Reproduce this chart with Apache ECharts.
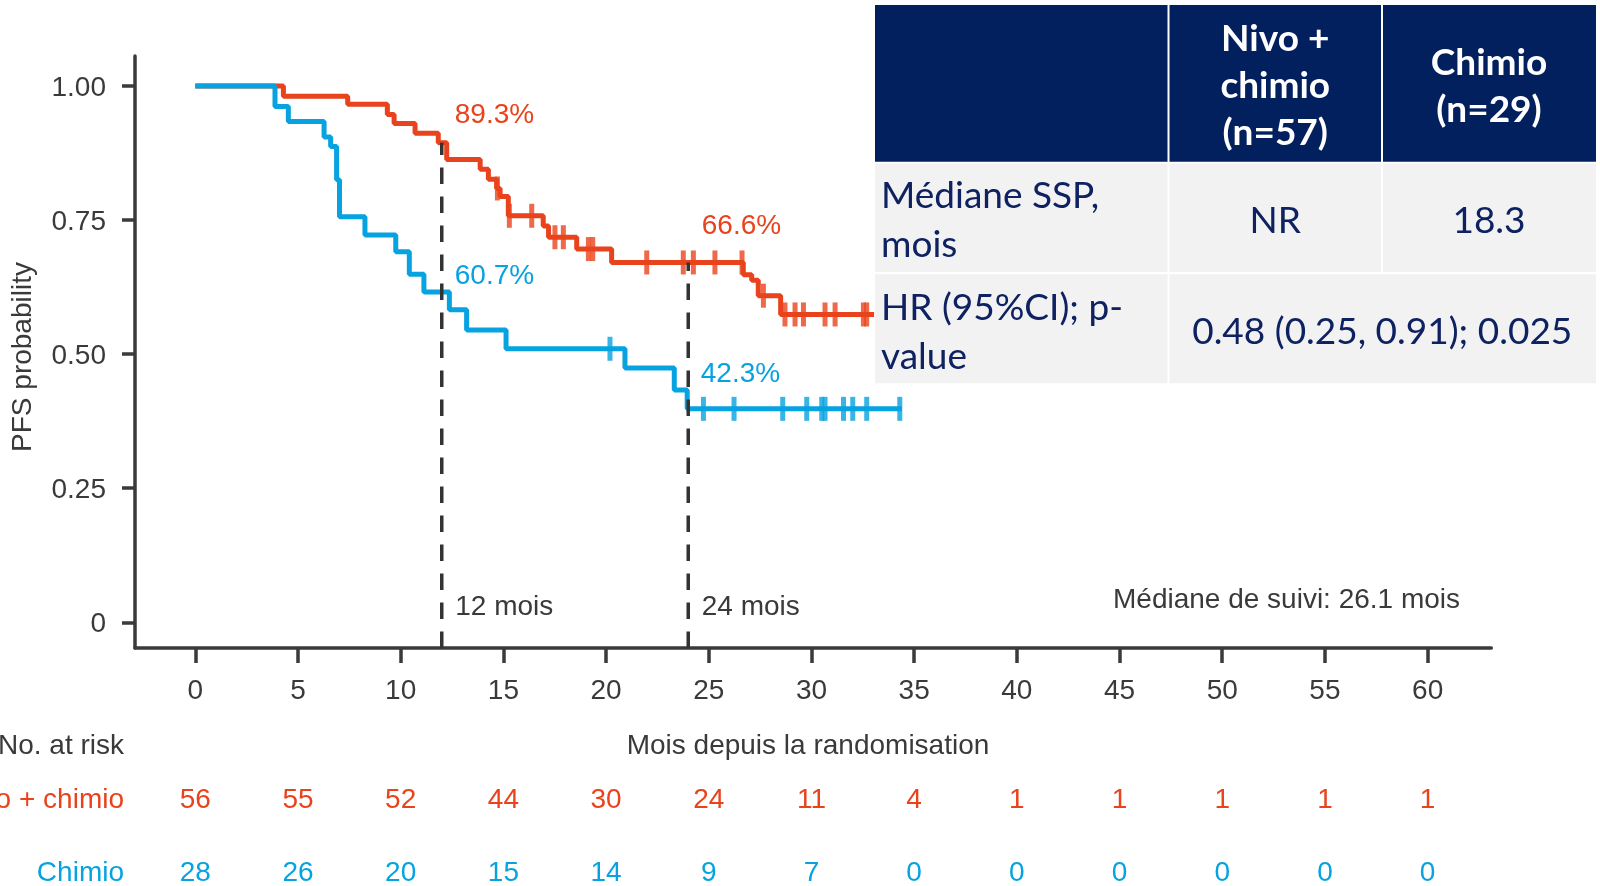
<!DOCTYPE html>
<html>
<head>
<meta charset="utf-8">
<script src="https://cdn.jsdelivr.net/npm/echarts@6/dist/echarts.min.js"></script>
<style>
html,body{margin:0;padding:0;background:#fff;overflow:hidden;}
#c{width:1600px;height:886px;}
</style>
</head>
<body>
<div id="c"></div>
<script>
// ---------------- DATA ----------------
const xTicks = [0, 5, 10, 15, 20, 25, 30, 35, 40, 45, 50, 55, 60];
const yTicks = [0, 0.25, 0.5, 0.75, 1];
const yTickLabels = ['0', '0.25', '0.50', '0.75', '1.00'];

const nivoName = 'Nivo + chimio';
const nivoTimes = [0, 4.29, 7.42, 9.35, 9.68, 10.70, 11.83, 12.24, 13.87, 14.27, 14.67, 14.84, 15.24, 16.94, 17.20, 18.57, 20.27, 26.68, 27.09, 27.41, 28.50, 33.05];
const nivoSurv  = [1, 0.981, 0.966, 0.947, 0.930, 0.912, 0.894, 0.863, 0.845, 0.826, 0.809, 0.794, 0.758, 0.739, 0.718, 0.696, 0.671, 0.648, 0.638, 0.609, 0.574, 0.574];
const nivoCensor = [14.71, 15.29, 16.38, 17.51, 17.92, 19.14, 19.35, 21.98, 23.76, 24.25, 25.30, 26.62, 27.66, 28.71, 29.20, 29.61, 30.66, 31.15, 32.53, 32.69];

const chimioName = 'Chimio';
const chimioTimes = [0, 3.88, 4.53, 6.27, 6.59, 6.88, 7.02, 8.26, 9.76, 10.42, 11.13, 12.37, 13.21, 15.13, 20.92, 23.32, 23.95, 34.4];
const chimioSurv  = [1, 0.962, 0.934, 0.905, 0.887, 0.825, 0.756, 0.722, 0.691, 0.649, 0.616, 0.583, 0.545, 0.510, 0.474, 0.433, 0.398, 0.398];
const chimioCensor = [20.19, 24.74, 26.23, 28.60, 29.77, 30.50, 30.66, 31.56, 32.01, 32.69, 34.3];

const landmarkMonths = [12, 24];
const landmarkLabels = ['12 mois', '24 mois'];
const landmarkTop = [0.894, 0.671];
const nivoLandmarkText = ['89.3%', '66.6%'];
const nivoLandmarkValue = [0.893, 0.666];
const chimioLandmarkText = ['60.7%', '42.3%'];
const chimioLandmarkValue = [0.607, 0.423];

const riskMonths = [0, 5, 10, 15, 20, 25, 30, 35, 40, 45, 50, 55, 60];
const riskNivo = [56, 55, 52, 44, 30, 24, 11, 4, 1, 1, 1, 1, 1];
const riskChimio = [28, 26, 20, 15, 14, 9, 7, 0, 0, 0, 0, 0, 0];

const yAxisName = 'PFS probability';
const xAxisName = 'Mois depuis la randomisation';
const riskTitle = 'No. at risk';
const followUpText = 'Médiane de suivi: 26.1 mois';

const tableHeader = ['', 'Nivo +\nchimio\n(n=57)', 'Chimio\n(n=29)'];
const tableRowMedian = ['Médiane SSP,\nmois', 'NR', '18.3'];
const tableRowHR = ['HR (95%CI); p-\nvalue', '0.48 (0.25, 0.91); 0.025'];

// ---------------- STYLE / LAYOUT ----------------
const RED = '#E8431D', BLUE = '#06A3E0', INK = '#3a3a3a', DASH = '#333333';
const HEAD = '#021F5E', ROWBG = '#F2F2F2', NAVY = '#0E2161';
const FONT = '"Liberation Sans", Arial, sans-serif';
const TFONT = 'Lato, "Open Sans", sans-serif';
const X_MIN = -2.936, X_MAX = 63.10, Y_MIN = -0.048, Y_MAX = 1.056;

function levelAt(times, surv, t) {
  let v = surv[0];
  for (let i = 0; i < times.length; i++) if (times[i] <= t) v = surv[i];
  return v;
}
const zip = (a, b) => a.map((v, i) => [v, b[i]]);

const chart = echarts.init(document.getElementById('c'), null, {renderer: 'canvas'});

const series = [
  {type: 'line', name: nivoName, step: 'end', data: zip(nivoTimes, nivoSurv), symbol: 'none',
   lineStyle: {color: RED, width: 5}, silent: true, z: 2},
  {type: 'line', name: chimioName, step: 'end', data: zip(chimioTimes, chimioSurv), symbol: 'none',
   lineStyle: {color: BLUE, width: 5}, silent: true, z: 2},
  {type: 'scatter', data: nivoCensor.map(t => [t, levelAt(nivoTimes, nivoSurv, t)]),
   symbol: 'rect', symbolSize: [5, 24], itemStyle: {color: RED}, silent: true, z: 2},
  {type: 'scatter', data: chimioCensor.map(t => [t, levelAt(chimioTimes, chimioSurv, t)]),
   symbol: 'rect', symbolSize: [5, 24], itemStyle: {color: BLUE}, silent: true, z: 2}
];
landmarkMonths.forEach((m, i) => {
  series.push({type: 'line', data: [[m, Y_MIN], [m, landmarkTop[i]]], symbol: 'none',
    lineStyle: {color: DASH, width: 3.5, type: [16.5, 12.5]}, silent: true, z: 3});
});

const option = {
  animation: false,
  backgroundColor: '#ffffff',
  grid: {left: 135, right: 108.7, top: 56, bottom: 238},
  xAxis: {
    type: 'value', min: X_MIN, max: X_MAX,
    axisLine: {show: true, onZero: false, lineStyle: {color: INK, width: 3.5}},
    axisTick: {show: true, length: 15, customValues: xTicks, lineStyle: {color: INK, width: 3.5}},
    axisLabel: {show: true, customValues: xTicks, margin: 29, fontSize: 28, color: INK, fontFamily: FONT},
    splitLine: {show: false}
  },
  yAxis: {
    type: 'value', min: Y_MIN, max: Y_MAX,
    axisLine: {show: true, onZero: false, lineStyle: {color: INK, width: 3.5}},
    axisTick: {show: true, length: 13, customValues: yTicks, lineStyle: {color: INK, width: 3.5}},
    axisLabel: {show: false},
    splitLine: {show: false}
  },
  series: series
};
chart.setOption(option);

// ---------------- TEXT / TABLE via library scales ----------------
const px = t => chart.convertToPixel({xAxisIndex: 0}, t);
const py = v => chart.convertToPixel({yAxisIndex: 0}, v);

function txt(text, x, y, opts) {
  opts = opts || {};
  return {
    type: 'text', x: x, y: y, z: 100, silent: true,
    rotation: opts.rotation || 0,
    style: {
      text: text, x: 0, y: 0,
      fill: opts.fill || INK,
      fontSize: opts.size || 28,
      fontFamily: opts.family || FONT,
      fontWeight: opts.weight || 'normal',
      align: opts.align || 'left', verticalAlign: 'middle',
      textAlign: opts.align || 'left', textVerticalAlign: 'middle'
    }
  };
}

const g = [];
const DY = 2.5; // baseline nudge for chart texts
// y tick labels placed through the y scale
yTicks.forEach((v, i) => g.push(txt(yTickLabels[i], 106, py(v) + DY, {align: 'right'})));
// landmark annotations
const nivoOff = [[13, -31], [13.5, -41.7]];
const chimioOff = [[13, -23.4], [12.5, -23.8]];
landmarkMonths.forEach((m, i) => {
  g.push(txt(nivoLandmarkText[i], px(m) + nivoOff[i][0], py(nivoLandmarkValue[i]) + nivoOff[i][1] + DY, {fill: RED}));
  g.push(txt(chimioLandmarkText[i], px(m) + chimioOff[i][0], py(chimioLandmarkValue[i]) + chimioOff[i][1] + DY, {fill: BLUE}));
  g.push(txt(landmarkLabels[i], px(m) + 13.5, 605 + DY, {fill: INK}));
});
g.push(txt(followUpText, 1113, 598 + DY, {fill: INK}));
// axis names
g.push(txt(yAxisName, 23, 357, {align: 'center', rotation: Math.PI / 2}));
g.push(txt(xAxisName, 808, 744 + DY, {align: 'center'}));
// risk table
g.push(txt(riskTitle, 124, 744 + DY, {align: 'right'}));
g.push(txt(nivoName, 124, 798 + DY, {align: 'right', fill: RED}));
g.push(txt(chimioName, 124, 871 + DY, {align: 'right', fill: BLUE}));
riskMonths.forEach((m, i) => {
  g.push(txt(String(riskNivo[i]), px(m), 798 + DY, {align: 'center', fill: RED}));
  g.push(txt(String(riskChimio[i]), px(m), 871 + DY, {align: 'center', fill: BLUE}));
});

// summary table
function rect(x, y, w, h, fill) {
  return {type: 'rect', z: 90, silent: true, shape: {x: x, y: y, width: w, height: h}, style: {fill: fill}};
}
const colX = [875, 1169.5, 1383, 1598];
const rowY = [5, 163.5, 274.3];
const rowH = [156.7, 108.5, 109];
for (let c = 0; c < 3; c++) g.push(rect(colX[c], rowY[0], colX[c + 1] - colX[c] - 2, rowH[0], HEAD));
for (let c = 0; c < 3; c++) g.push(rect(colX[c], rowY[1], colX[c + 1] - colX[c] - 2, rowH[1], ROWBG));
g.push(rect(colX[0], rowY[2], colX[1] - colX[0] - 2, rowH[2], ROWBG));
g.push(rect(colX[1], rowY[2], colX[3] - colX[1] - 2, rowH[2], ROWBG));

const TSIZE = 37;
const TDY = 2;
function cellText(str, cx, cy, lh, opts) {
  const lines = str.split('\n');
  lines.forEach((ln, k) => {
    const y = cy + TDY + (k - (lines.length - 1) / 2) * lh;
    g.push(txt(ln, cx, y, Object.assign({size: TSIZE, family: TFONT}, opts)));
  });
}
const colC = [0, (colX[1] + colX[2] - 2) / 2, (colX[2] + 1595) / 2];
cellText(tableHeader[1], colC[1], 84.5, 47, {align: 'center', fill: '#ffffff', weight: 'bold'});
cellText(tableHeader[2], colC[2], 85, 47, {align: 'center', fill: '#ffffff', weight: 'bold'});
cellText(tableRowMedian[0], 881, 219, 49, {align: 'left', fill: NAVY});
cellText(tableRowMedian[1], colC[1], 219, 49, {align: 'center', fill: NAVY});
cellText(tableRowMedian[2], colC[2], 219, 49, {align: 'center', fill: NAVY});
cellText(tableRowHR[0], 881, 331, 49, {align: 'left', fill: NAVY});
cellText(tableRowHR[1], (colX[1] + 1595) / 2, 330, 49, {align: 'center', fill: NAVY});

chart.setOption({graphic: {elements: g}});
</script>
</body>
</html>
